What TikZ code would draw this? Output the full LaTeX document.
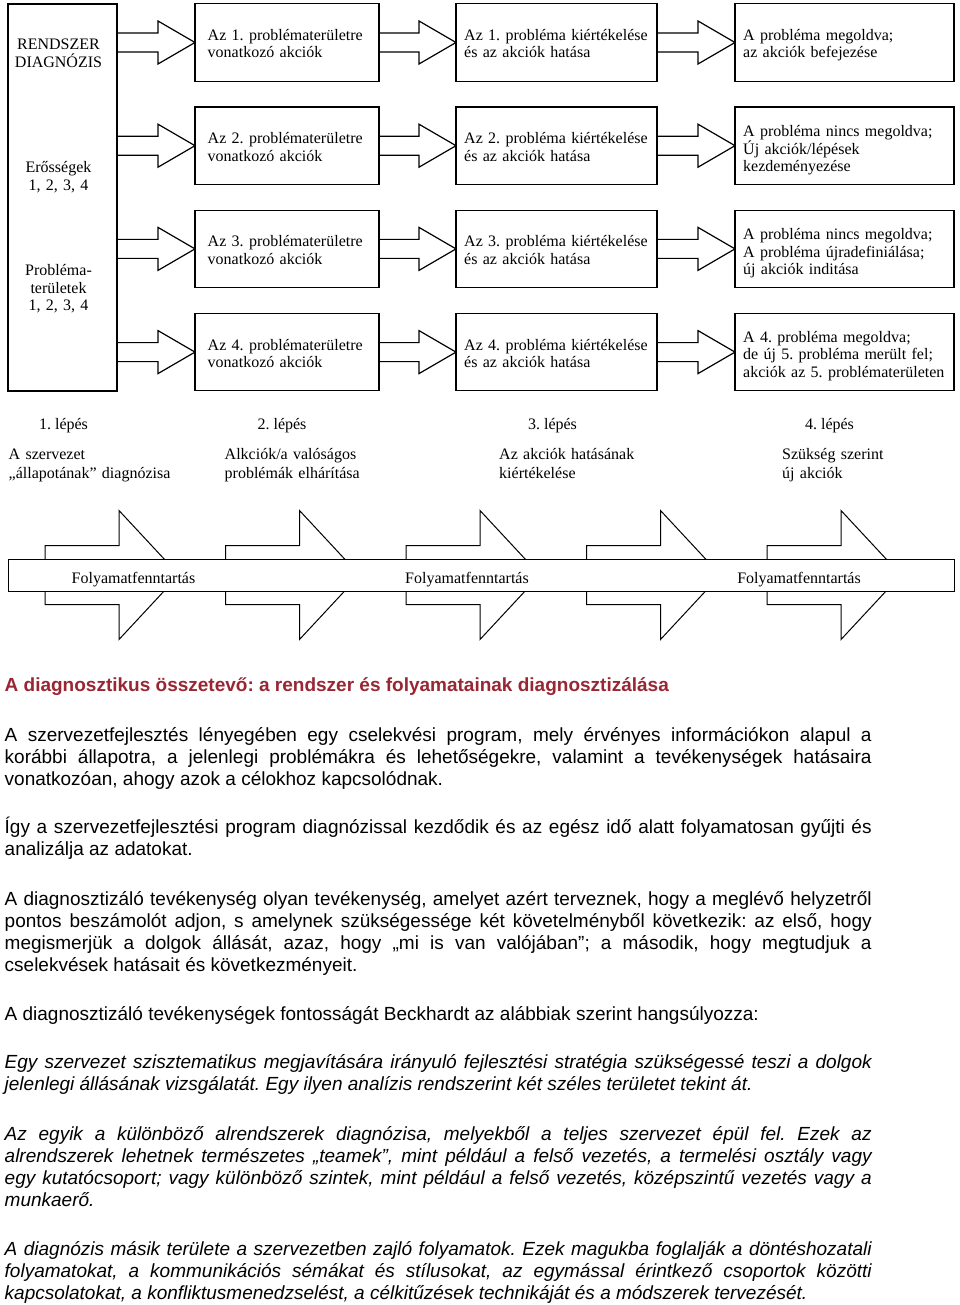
\documentclass[tikz,border=0pt]{standalone}
\usepackage{fontspec}
\setmainfont{Liberation Sans}
\newfontfamily\abrafont{Liberation Serif}
\usepackage{xcolor}
\usetikzlibrary{calc}
\definecolor{cimszin}{RGB}{153,38,51}
\frenchspacing

\tikzset{
  doboz/.style={draw, line width=1.2pt, outer sep=0pt, inner sep=0pt, minimum height=77.5pt},
  nyilvonal/.style={line width=1.2pt, line join=miter},
  szoveg/.style={anchor=base west, inner sep=0pt, text width=215pt, align=left,
    font=\abrafont\fontsize{16}{17.5}\selectfont},
  diagszoveg/.style={anchor=base, inner sep=0pt, text width=105pt, align=center,
    font=\abrafont\fontsize{16}{17.5}\selectfont},
  lepes/.style={anchor=base, inner sep=0pt, font=\abrafont\fontsize{16}{19}\selectfont},
  leiras/.style={anchor=base west, inner sep=0pt, text width=250pt, align=left,
    font=\abrafont\fontsize{16}{19}\selectfont},
  chevron/.style={draw, fill=white, line width=1pt, line join=miter},
  cim/.style={anchor=base west, inner sep=0pt, text=cimszin,
    font=\bfseries\fontsize{19}{22}\selectfont},
  bekezdes/.style={anchor=base west, inner sep=0pt, text width=867pt, align=justify,
    font=\fontsize{19}{22}\selectfont},
}

% doboztol dobozig tarto vastag nyil
\newcommand{\nyil}[2]{%
  \draw[nyilvonal] let \p1=(#1.east), \p2=(#2.west) in
    (\x1,\y2+9.5pt) -- (\x2-37pt,\y2+9.5pt) -- (\x2-37pt,\y2+21.5pt) -- (\x2,\y2)
    -- (\x2-37pt,\y2-21.5pt) -- (\x2-37pt,\y2-9.5pt) -- (\x1,\y2-9.5pt);}

\begin{document}
\begin{tikzpicture}[x=1pt,y=-1pt]
\fill[white] (0,0) rectangle (960,1305);
\useasboundingbox (0,0) rectangle (960,1305);
% rendszer diagnozis
\node[doboz, minimum width=109pt, minimum height=387pt] (diag) at (62.5,197.5) {};
\node[diagszoveg] (d1) at (58.5,50) {RENDSZER\\DIAGNÓZIS};
\node[diagszoveg] (d2) at (58.5,173) {Erősségek\\1, 2, 3, 4};
\node[diagszoveg] (d3) at (58.5,276) {Probléma-\\területek\\1, 2, 3, 4};
% dobozok es nyilak
\foreach \r in {1,...,4} {
  \pgfmathsetmacro\yc{42.5+103.2*(\r-1)}
  \node[doboz, minimum width=184pt] (a\r) at (287,\yc) {};
  \node[doboz, minimum width=201pt] (b\r) at (556.5,\yc) {};
  \node[doboz, minimum width=219pt] (c\r) at (844.5,\yc) {};
  \node[szoveg] (ta\r) at ($(a\r.west)+(12.5,-2)$) {Az \r. problématerületre\\vonatkozó akciók};
  \node[szoveg] (tb\r) at ($(b\r.west)+(8,-2)$) {Az \r. probléma kiértékelése\\és az akciók hatása};
  \nyil{diag}{a\r}
  \nyil{a\r}{b\r}
  \nyil{b\r}{c\r}
}
\node[szoveg] (tc1) at ($(c1.west)+(8,-2)$) {A probléma megoldva;\\az akciók befejezése};
\node[szoveg] (tc2) at ($(c2.west)+(8,-9)$) {A probléma nincs megoldva;\\Új akciók/lépések\\kezdeményezése};
\node[szoveg] (tc3) at ($(c3.west)+(8,-9)$) {A probléma nincs megoldva;\\A probléma újradefiniálása;\\új akciók inditása};
\node[szoveg] (tc4) at ($(c4.west)+(8,-10)$) {A 4. probléma megoldva;\\de új 5. probléma merült fel;\\akciók az 5. problématerületen};
% lepesek
\foreach \x/\n in {63.5/1, 282/2, 552.5/3, 829.5/4}
  \node[lepes] (s\n) at (\x,429) {\n. lépés};
\node[leiras] (l1) at (8.5,459) {A szervezet\\„állapotának” diagnózisa};
\node[leiras] (l2) at (224.5,459) {Alkciók/a valóságos\\problémák elhárítása};
\node[leiras] (l3) at (499,459) {Az akciók hatásának\\kiértékelése};
\node[leiras] (l4) at (782,459) {Szükség szerint\\új akciók};
% folyamatfenntartas
\foreach \i in {0,...,4} {
  \pgfmathsetmacro\xa{45+180.5*\i}
  \draw[chevron] (\xa,545.5) -- ++(74,0) -- ++(0,-35) -- ++(60,64.5) -- ++(-60,64.5)
    -- ++(0,-35) -- ++(-74,0) -- cycle;
}
\node[draw, fill=white, line width=1pt, minimum width=946pt, minimum height=32pt,
  inner sep=0pt, outer sep=0pt] (savo) at (481,575) {};
\foreach \x/\n in {133.5/1, 467/2, 799/3}
  \node[lepes] (f\n) at (\x,583) {Folyamatfenntartás};
% szoveg
\node[cim] (h) at (4.5,691.5) {A diagnosztikus összetevő: a rendszer és folyamatainak diagnosztizálása};
\node[bekezdes] (p1) at (4.5,741.5) {A szervezetfejlesztés lényegében egy cselekvési program, mely érvényes információkon alapul a\linebreak korábbi állapotra, a jelenlegi problémákra és lehetőségekre, valamint a tevékenységek hatásaira\linebreak vonatkozóan, ahogy azok a célokhoz kapcsolódnak.};
\node[bekezdes] (p2) at (4.5,833.5) {Így a szervezetfejlesztési program diagnózissal kezdődik és az egész idő alatt folyamatosan gyűjti és\linebreak analizálja az adatokat.};
\node[bekezdes] (p3) at (4.5,905) {A diagnosztizáló tevékenység olyan tevékenység, amelyet azért terveznek, hogy a meglévő helyzetről\linebreak pontos beszámolót adjon, s amelynek szükségessége két követelményből következik: az első, hogy\linebreak megismerjük a dolgok állását, azaz, hogy „mi is van valójában”; a második, hogy megtudjuk a\linebreak cselekvések hatásait és következményeit.};
\node[bekezdes] (p4) at (4.5,1020) {A diagnosztizáló tevékenységek fontosságát Beckhardt az alábbiak szerint hangsúlyozza:};
\node[bekezdes, font=\itshape\fontsize{19}{22}\selectfont] (p5) at (4.5,1068.5) {Egy szervezet szisztematikus megjavítására irányuló fejlesztési stratégia szükségessé teszi a dolgok\linebreak jelenlegi állásának vizsgálatát. Egy ilyen analízis rendszerint két széles területet tekint át.};
\node[bekezdes, font=\itshape\fontsize{19}{22}\selectfont] (p6) at (4.5,1140) {Az egyik a különböző alrendszerek diagnózisa, melyekből a teljes szervezet épül fel. Ezek az\linebreak alrendszerek lehetnek természetes „teamek”, mint például a felső vezetés, a termelési osztály vagy\linebreak egy kutatócsoport; vagy különböző szintek, mint például a felső vezetés, középszintű vezetés vagy a\linebreak munkaerő.};
\node[bekezdes, font=\itshape\fontsize{19}{22}\selectfont] (p7) at (4.5,1255) {A diagnózis másik területe a szervezetben zajló folyamatok. Ezek magukba foglalják a döntéshozatali\linebreak folyamatokat, a kommunikációs sémákat és stílusokat, az egymással érintkező csoportok közötti\linebreak kapcsolatokat, a konfliktusmenedzselést, a célkitűzések technikáját és a módszerek tervezését.};
\end{tikzpicture}
\end{document}
